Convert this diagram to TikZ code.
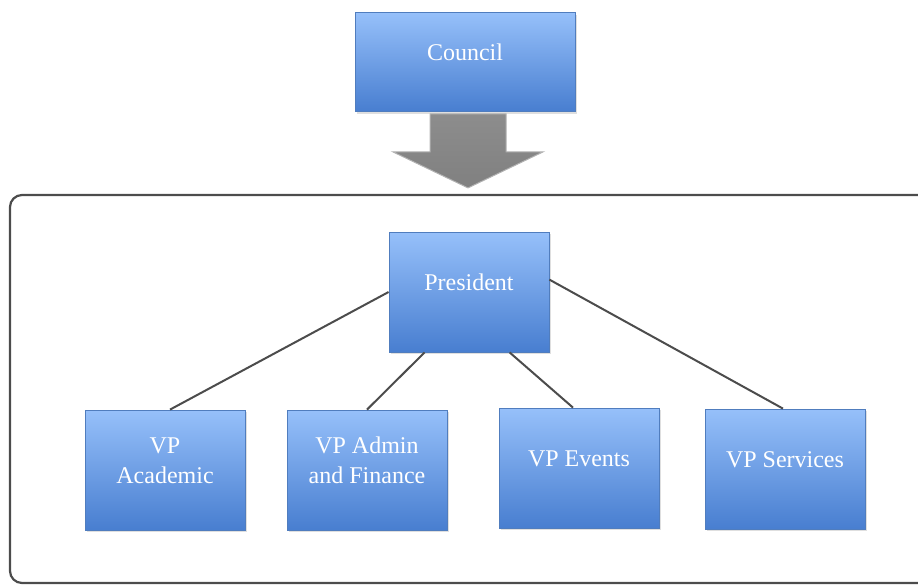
\documentclass[tikz,border=0pt]{standalone}
\usepackage{fontspec}
\setmainfont{Liberation Serif}
\usetikzlibrary{calc,shadows}
\definecolor{boxtop}{RGB}{150,192,250}
\definecolor{boxbot}{RGB}{72,126,208}
\definecolor{boxline}{RGB}{80,125,190}
\definecolor{arrowgray}{RGB}{128,128,128}
% box text, a little above the middle
\newcommand{\boxtext}[1]{\raisebox{0pt}[\height][\dimexpr\depth+8pt\relax]{%
  \begin{tabular}{@{}c@{}}#1\end{tabular}}}
\tikzset{
  box/.style={draw=boxline, line width=0.4pt, top color=boxtop, bottom color=boxbot,
    text=white, align=center, font=\fontsize{12}{15}\selectfont, inner sep=0pt,
    minimum width=80pt, minimum height=60pt,
    drop shadow={opacity=0.25, shadow xshift=1pt, shadow yshift=-1pt}},
  link/.style={draw=black!70, line width=1pt},
  frame/.style={draw=black!70, line width=1.1pt, rounded corners=6pt},
  bigarrow/.style={top color=arrowgray!90, bottom color=arrowgray, draw=black!30, line width=0.5pt},
}
\begin{document}
\begin{tikzpicture}[x=0.5pt, y=-0.5pt]
    \useasboundingbox (0,0) rectangle (918,586);

    % Council on top
    \node[box, minimum width=110pt, minimum height=49.5pt] (council) at (465,62) {\boxtext{Council}};

    % Block arrow down to the executive
    \draw[bigarrow] ($(council.south)+(-35,2)$) -- ++(76,0) -- ++(0,38) -- ++(37,0)
      -- ++(-75,36) -- ++(-75,-36) -- ++(37,0) -- cycle;

    % Executive frame
    \draw[frame] (10,195) rectangle (940,583);

    % Executive boxes
    \node[box] (pres) at (469,292) {\boxtext{President}};
    \node[box] (acad) at (165,470) {\boxtext{VP\\Academic}};
    \node[box] (admin) at (367,470) {\boxtext{VP Admin\\and Finance}};
    \node[box] (events) at (579,468) {\boxtext{VP Events}};
    \node[box] (serv) at (785,469) {\boxtext{VP Services}};

    % Links from the President
    \draw[link] (pres.west) -- ($(acad.north)+(5,0)$);
    \draw[link] ($(pres.south west)+(36,0)$) -- (admin.north);
    \draw[link] ($(pres.south west)+(121,0)$) -- ($(events.north)+(-6,0)$);
    \draw[link] ($(pres.north east)+(0,48)$) -- ($(serv.north)+(-2,0)$);
\end{tikzpicture}
\end{document}
